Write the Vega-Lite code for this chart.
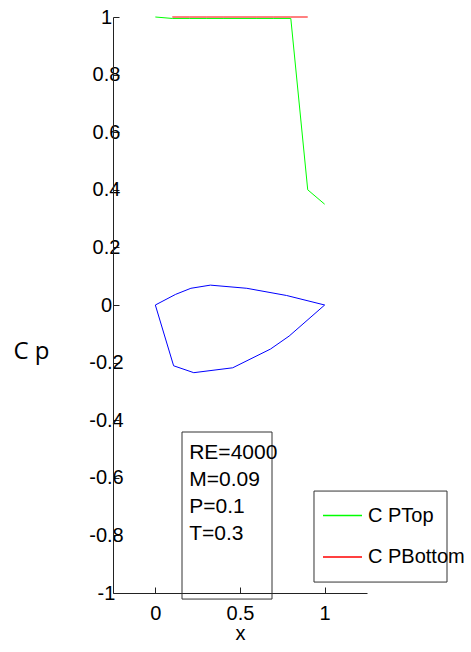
{
  "$schema": "https://vega.github.io/schema/vega-lite/v6.json",
  "width": 254,
  "height": 576,
  "autosize": {"type": "none"},
  "padding": {"left": 113, "top": 17, "right": 104, "bottom": 59},
  "background": "white",
  "config": {
    "view": {"stroke": null},
    "font": "Liberation Sans",
    "axis": {"grid": false, "domainColor": "#222222", "tickColor": "#222222", "labelColor": "black", "titleColor": "black", "labelFont": "Liberation Sans", "titleFont": "Liberation Sans", "titleFontWeight": "normal", "labelFlush": false, "labelOverlap": false, "labelBound": false}
  },
  "datasets": {
    "cp": [
      {"series": "C PTop", "x": 0.0, "y": 1.0},
      {"series": "C PTop", "x": 0.1, "y": 0.995},
      {"series": "C PTop", "x": 0.2, "y": 0.995},
      {"series": "C PTop", "x": 0.3, "y": 0.995},
      {"series": "C PTop", "x": 0.4, "y": 0.995},
      {"series": "C PTop", "x": 0.5, "y": 0.995},
      {"series": "C PTop", "x": 0.6, "y": 0.995},
      {"series": "C PTop", "x": 0.7, "y": 0.995},
      {"series": "C PTop", "x": 0.8, "y": 0.995},
      {"series": "C PTop", "x": 0.9, "y": 0.4},
      {"series": "C PTop", "x": 1.0, "y": 0.35},
      {"series": "C PBottom", "x": 0.1, "y": 1.0},
      {"series": "C PBottom", "x": 0.2, "y": 1.0},
      {"series": "C PBottom", "x": 0.3, "y": 1.0},
      {"series": "C PBottom", "x": 0.4, "y": 1.0},
      {"series": "C PBottom", "x": 0.5, "y": 1.0},
      {"series": "C PBottom", "x": 0.6, "y": 1.0},
      {"series": "C PBottom", "x": 0.7, "y": 1.0},
      {"series": "C PBottom", "x": 0.8, "y": 1.0},
      {"series": "C PBottom", "x": 0.9, "y": 1.0}
    ],
    "airfoil": [
      {"i": 0, "x": 0.0, "y": 0.0},
      {"i": 1, "x": 0.12, "y": 0.037},
      {"i": 2, "x": 0.21, "y": 0.058},
      {"i": 3, "x": 0.325, "y": 0.069},
      {"i": 4, "x": 0.54, "y": 0.058},
      {"i": 5, "x": 0.775, "y": 0.033},
      {"i": 6, "x": 1.0, "y": 0.0},
      {"i": 7, "x": 0.79, "y": -0.108},
      {"i": 8, "x": 0.68, "y": -0.153},
      {"i": 9, "x": 0.457, "y": -0.218},
      {"i": 10, "x": 0.227, "y": -0.235},
      {"i": 11, "x": 0.108, "y": -0.211},
      {"i": 12, "x": 0.0, "y": 0.0}
    ],
    "notes": [
      {"label": "RE=4000", "x": 0.2, "y": -0.514},
      {"label": "M=0.09", "x": 0.2, "y": -0.608},
      {"label": "P=0.1", "x": 0.2, "y": -0.701},
      {"label": "T=0.3", "x": 0.2, "y": -0.795}
    ],
    "boxes": [
      {"x": 0.1575, "x2": 0.689, "y": -0.441, "y2": -1.021},
      {"x": 0.937, "x2": 1.7225, "y": -0.646, "y2": -0.962}
    ]
  },
  "encoding": {
    "x": {
      "field": "x", "type": "quantitative",
      "scale": {"domain": [-0.25, 1.25], "nice": false, "zero": false},
      "axis": {"values": [0, 0.5, 1], "format": "~g", "tickSize": -6, "labelPadding": 16, "labelFontSize": 20, "title": "x", "titleFontSize": 20, "titleY": 46, "titleBaseline": "alphabetic"}
    },
    "y": {
      "field": "y", "type": "quantitative",
      "scale": {"domain": [-1, 1], "nice": false, "zero": false},
      "axis": {"values": [-1, -0.8, -0.6, -0.4, -0.2, 0, 0.2, 0.4, 0.6, 0.8, 1], "labelExpr": "replace(format(datum.value, '~g'), '\u2212', '-')", "tickSize": -6, "labelPadding": 13, "labelAlign": "center", "labelFontSize": 20, "title": "C p", "titleAngle": 0, "titleX": -100, "titleY": 341, "titleAlign": "left", "titleBaseline": "alphabetic", "titleFont": "Open Sans", "titleFontSize": 24}
    }
  },
  "layer": [
    {
      "data": {"name": "boxes"},
      "mark": {"type": "rect", "fill": "transparent", "stroke": "#333333", "strokeWidth": 1},
      "encoding": {"x2": {"field": "x2"}, "y2": {"field": "y2"}}
    },
    {
      "data": {"name": "cp"},
      "mark": {"type": "line", "strokeWidth": 1},
      "encoding": {
        "color": {"field": "series", "type": "nominal",
          "scale": {"domain": ["C PTop", "C PBottom"], "range": ["#00ff00", "#ff0000"]},
          "legend": {"orient": "none", "legendX": 209, "legendY": 478, "title": null, "symbolType": "stroke", "symbolSize": 1521, "symbolStrokeWidth": 1.3, "labelFontSize": 20, "labelFont": "Liberation Sans", "labelColor": "black", "labelOffset": 5, "rowPadding": 10.5, "padding": 0}
        }
      }
    },
    {
      "data": {"name": "airfoil"},
      "mark": {"type": "line", "color": "#0000ff", "strokeWidth": 1},
      "encoding": {"order": {"field": "i", "type": "quantitative"}}
    },
    {
      "data": {"name": "notes"},
      "mark": {"type": "text", "align": "left", "baseline": "middle", "fontSize": 21, "font": "Liberation Sans", "color": "black"},
      "encoding": {"text": {"field": "label"}}
    }
  ]
}
